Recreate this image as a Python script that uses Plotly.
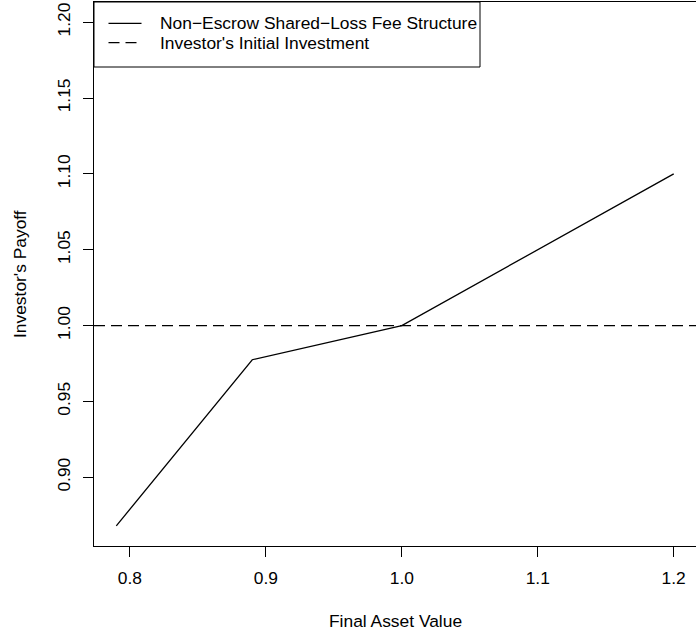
import plotly.graph_objects as go

# Payoff profile of the non-escrow shared-loss fee structure
final_asset_value = [0.79, 0.89, 1.00, 1.20]
investor_payoff = [0.868, 0.9775, 1.00, 1.10]
initial_investment = 1.0
payoff_ceiling = 1.2

x_ticks = [0.8, 0.9, 1.0, 1.1, 1.2]
x_tick_labels = ["0.8", "0.9", "1.0", "1.1", "1.2"]
y_ticks = [0.90, 0.95, 1.00, 1.05, 1.10, 1.15, 1.20]
y_tick_labels = ["0.90", "0.95", "1.00", "1.05", "1.10", "1.15", "1.20"]

series_names = ["Non\u2212Escrow Shared\u2212Loss Fee Structure",
                "Investor's Initial Investment"]


def padded(lo, hi, frac=0.04):
    span = hi - lo
    return [lo - frac * span, hi + frac * span]


x_range = padded(min(final_asset_value), max(final_asset_value))
y_range = padded(min(investor_payoff), payoff_ceiling)

W, H = 696, 634
M = dict(l=94, r=0, t=2, b=88)
PW, PH = W - M["l"] - M["r"], H - M["t"] - M["b"]

FONT = "Liberation Sans, Arial, Helvetica, sans-serif"
FS = 17.4
LINE_W = 1.3
DASH = "11px,6px"


def px_x(px):
    """Canvas pixel column -> paper x."""
    return (px - M["l"]) / PW


def px_y(px):
    """Canvas pixel row -> paper y."""
    return (H - M["b"] - px) / PH


fig = go.Figure()
fig.add_trace(go.Scatter(
    x=final_asset_value, y=investor_payoff, mode="lines",
    name=series_names[0], showlegend=False,
    line=dict(color="black", width=LINE_W),
))
fig.add_trace(go.Scatter(
    x=x_range, y=[initial_investment, initial_investment], mode="lines",
    name=series_names[1], showlegend=False,
    line=dict(color="black", width=LINE_W, dash=DASH),
))

axis_common = dict(
    showgrid=False, zeroline=False, showline=True, linecolor="black",
    linewidth=1, ticks="outside", ticklen=10, tickwidth=1,
    tickcolor="black", tickfont=dict(family=FONT, size=FS, color="black"),
)

# Boxed legend in the top-left corner of the plotting region
legend_right, legend_bottom = 480, 67
row_y = [23.3, 42.7]
sample_x = (108.5, 141.5)
text_x = 158
styles = [None, DASH]

shapes = [dict(type="rect", xref="paper", yref="paper",
               x0=0, x1=px_x(legend_right), y0=px_y(legend_bottom), y1=1,
               line=dict(color="black", width=1), fillcolor="white",
               layer="above")]
annotations = []
for name, ry, dash in zip(series_names, row_y, styles):
    ln = dict(color="black", width=LINE_W)
    if dash:
        ln["dash"] = dash
    shapes.append(dict(type="line", xref="paper", yref="paper",
                       x0=px_x(sample_x[0]), x1=px_x(sample_x[1]),
                       y0=px_y(ry), y1=px_y(ry), line=ln, layer="above"))
    annotations.append(dict(text=name, xref="paper", yref="paper",
                            x=px_x(text_x), y=px_y(ry), xanchor="left",
                            yanchor="middle", showarrow=False,
                            font=dict(family=FONT, size=FS, color="black")))

annotations += [
    dict(text="Final Asset Value", xref="paper", yref="paper",
         x=0.5, y=0, xanchor="center", yanchor="middle", yshift=-75,
         showarrow=False, font=dict(family=FONT, size=FS, color="black")),
    dict(text="Investor's Payoff", xref="paper", yref="paper",
         x=0, y=0.5, xanchor="center", yanchor="middle", xshift=-74,
         textangle=-90, showarrow=False,
         font=dict(family=FONT, size=FS, color="black")),
]

fig.update_layout(
    width=W, height=H, margin=M,
    paper_bgcolor="white", plot_bgcolor="white",
    font=dict(family=FONT, size=FS, color="black"),
    xaxis=dict(range=x_range, tickvals=x_ticks, ticktext=x_tick_labels,
               mirror=True, ticklabelstandoff=6, **axis_common),
    yaxis=dict(range=y_range, tickvals=y_ticks, ticktext=y_tick_labels,
               tickangle=-90, mirror=False, ticklabelstandoff=6,
               **axis_common),
    showlegend=False,
    shapes=shapes,
    annotations=annotations,
)

fig.write_html("out.html")
